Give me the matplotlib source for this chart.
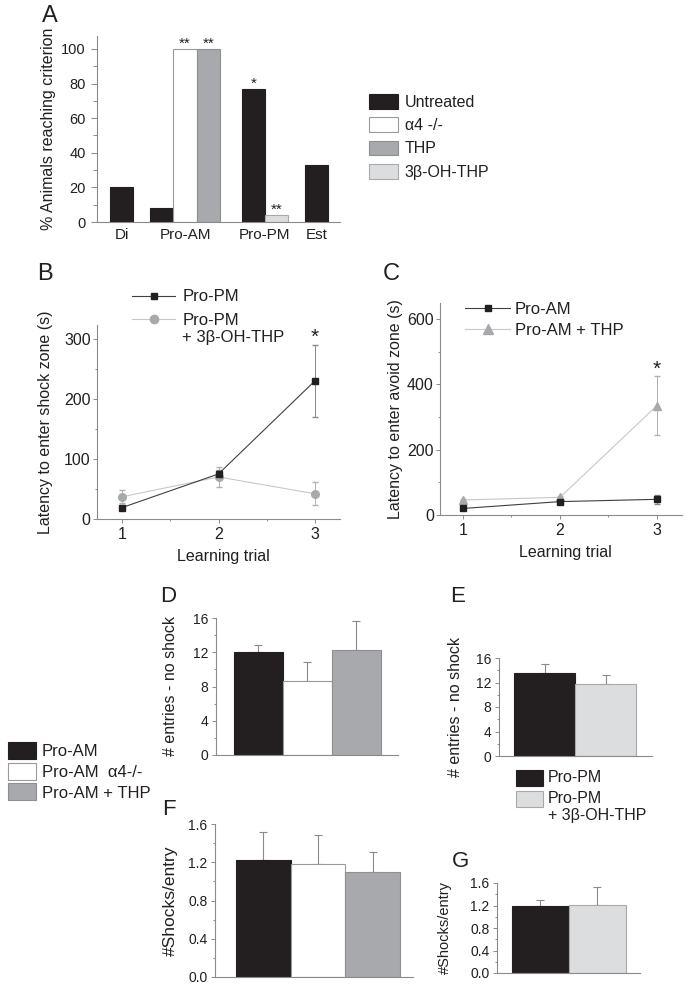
import numpy as np
import matplotlib
matplotlib.use('Agg')
import matplotlib.pyplot as plt
import matplotlib.transforms as mtransforms
from matplotlib.patches import Patch
from matplotlib.lines import Line2D
from matplotlib.ticker import MultipleLocator, FormatStrFormatter

plt.rcParams['font.family'] = ['Liberation Sans', 'DejaVu Sans']

W, H = 691, 991

# ---- data ----
# panel A: % animals reaching criterion
a_groups = ['Di', 'Pro-AM', 'Pro-PM', 'Est']
a_series = ['Untreated', 'α4 -/-', 'THP', '3β-OH-THP']
a_bar_group = [0, 1, 1, 1, 2, 2, 3]
a_bar_series = [0, 0, 1, 2, 0, 3, 0]
a_values = [20, 8, 100, 100, 77, 4, 33]
a_sig = ['', '', '**', '**', '*', '**', '']

# panel B / C: latency per learning trial
trials = [1, 2, 3]
b_pm = [19, 75, 230]
b_pm_err = [4, 7, 60]
b_pm_oh = [37, 70, 42]
b_pm_oh_err = [11, 16, 19]
b_sig = ['', '', '*']
c_am = [20, 41, 48]
c_am_err = [3, 4, 13]
c_am_thp = [46, 54, 335]
c_am_thp_err = [4, 5, 91]
c_sig = ['', '', '*']

# panels D-G
d_labels = ['Pro-AM', 'Pro-AM  α4-/-', 'Pro-AM + THP']
d_entries = [12.0, 8.7, 12.3]
d_err = [0.9, 2.2, 3.3]
f_shocks = [1.22, 1.18, 1.10]
f_err = [0.30, 0.30, 0.21]
e_labels = ['Pro-PM', 'Pro-PM\n+ 3β-OH-THP']
e_entries = [13.5, 11.8]
e_err = [1.5, 1.5]
g_shocks = [1.19, 1.21]
g_err = [0.10, 0.32]

# ---- styles ----
text_c = '#231f20'
spine_c = '#8a8a8a'
err_c = '#8a8a8a'
black_c = '#231f20'
thp_c = '#a7a9ac'
oh_c = '#dcddde'
a_face = [black_c, 'white', thp_c, oh_c]
a_edge = [black_c, '#9a9a9a', '#8f8f8f', '#a8a8a8']

fig = plt.figure(figsize=(W / 100, H / 100), dpi=100)


def px_axes(left, top, right, bottom):
    return fig.add_axes([left / W, 1 - bottom / H, (right - left) / W, (bottom - top) / H])


def style(ax, fs=10, ticklen=3, pad=2):
    for s in ['top', 'right']:
        ax.spines[s].set_visible(False)
    for s in ['left', 'bottom']:
        ax.spines[s].set_color(spine_c)
        ax.spines[s].set_linewidth(0.8)
    ax.tick_params(which='both', direction='out', color=spine_c, width=0.7,
                   labelsize=fs, labelcolor=text_c, pad=pad)
    ax.tick_params(which='major', length=ticklen)
    ax.tick_params(which='minor', length=ticklen * 0.6)


def ylabel_at(ax, text, x_px, size):
    ax.set_ylabel(text, fontsize=size, color=text_c)
    tr = mtransforms.blended_transform_factory(fig.transFigure, ax.transAxes)
    ax.yaxis.set_label_coords(x_px / W, 0.5, transform=tr)


def xlabel_at(ax, text, x_px, y_px, size):
    ax.set_xlabel(text, fontsize=size, color=text_c)
    ax.xaxis.set_label_coords(x_px / W, 1 - y_px / H, transform=fig.transFigure)


def letter(s, x_px, y_px, size=17):
    fig.text(x_px / W, 1 - y_px / H, s, fontsize=size, color=text_c, ha='left', va='top')


def align_top(leg):
    for col in leg._legend_handle_box.get_children():
        for row in col.get_children():
            row.align = 'top'


# ---------------- A ----------------
axA = px_axes(97, 36, 340, 222)
style(axA, fs=10.5, ticklen=4.5, pad=3.5)
a_centers = [1.05, 3.78, 7.21, 9.42]
counts = [a_bar_group.count(g) for g in range(len(a_groups))]
seen = [0] * len(a_groups)
for g, s, v, sig in zip(a_bar_group, a_bar_series, a_values, a_sig):
    k = seen[g]
    seen[g] += 1
    x = a_centers[g] + (k - (counts[g] - 1) / 2)
    axA.bar(x, v, width=1.0, color=a_face[s], edgecolor=a_edge[s], linewidth=0.8)
    if sig:
        axA.annotate(sig, (x, v), xytext=(0, 1), textcoords='offset points',
                     ha='center', va='baseline', fontsize=11, color=text_c)
axA.set_xlim(0, 10.43)
axA.set_ylim(0, 107.5)
axA.yaxis.set_major_locator(MultipleLocator(20))
axA.yaxis.set_minor_locator(MultipleLocator(10))
axA.set_xticks(a_centers)
axA.set_xticklabels(a_groups, fontsize=11)
axA.tick_params(axis='x', length=0, pad=4)
ylabel_at(axA, '% Animals reaching criterion', 56, 11.5)
letter('A', 42, 5.5)

a_handles = [Patch(facecolor=a_face[i], edgecolor=a_edge[i], linewidth=0.8) for i in range(4)]
fig.legend(a_handles, a_series, loc='upper left', bbox_to_anchor=(369 / W, 1 - 94 / H),
           frameon=False, fontsize=11.5, handlelength=1.8, handleheight=1.06,
           handletextpad=0.45, labelspacing=0.46, borderpad=0, borderaxespad=0,
           labelcolor=text_c)

# ---------------- B ----------------
axB = px_axes(97, 325, 340, 519)
style(axB, fs=11.5, ticklen=3, pad=1.5)
axB.errorbar(trials, b_pm_oh, yerr=b_pm_oh_err, color='#c8c8c8', lw=0.8, marker='o',
             ms=5.5, mfc=thp_c, mec=thp_c, ecolor='#b0b0b0', elinewidth=0.7, capsize=2.5)
axB.errorbar(trials, b_pm, yerr=b_pm_err, color='#404040', lw=0.8, marker='s',
             ms=4, mfc=black_c, mec=black_c, ecolor=err_c, elinewidth=0.7, capsize=2.5)
for x, v, e, s in zip(trials, b_pm, b_pm_err, b_sig):
    if s:
        axB.annotate(s, (x, v + e), xytext=(0, 1.5), textcoords='offset points',
                     ha='center', va='baseline', fontsize=15, color=text_c)
axB.set_xlim(0.74, 3.26)
axB.set_ylim(0, 323)
axB.set_xticks(trials)
axB.xaxis.set_minor_locator(MultipleLocator(0.5))
axB.yaxis.set_major_locator(MultipleLocator(100))
axB.yaxis.set_minor_locator(MultipleLocator(50))
axB.tick_params(axis='x', pad=3)
ylabel_at(axB, 'Latency to enter shock zone (s)', 53, 11.5)
xlabel_at(axB, 'Learning trial', 223, 549, 11.5)
letter('B', 37, 262.5)
b_handles = [Line2D([], [], color='#404040', lw=0.8, marker='s', ms=5, mfc=black_c, mec=black_c),
             Line2D([], [], color='#c8c8c8', lw=0.8, marker='o', ms=6, mfc=thp_c, mec=thp_c)]
legB = axB.legend(b_handles, ['Pro-PM', 'Pro-PM\n+ 3β-OH-THP'], loc='upper left',
                  bbox_to_anchor=(132 / W, 1 - 289 / H), bbox_transform=fig.transFigure,
                  frameon=False, fontsize=12, handlelength=2.6, handleheight=1.1,
                  handletextpad=0.42, labelspacing=0.45, borderpad=0, borderaxespad=0,
                  numpoints=1, labelcolor=text_c)
align_top(legB)

# ---------------- C ----------------
axC = px_axes(440, 303, 682, 515)
style(axC, fs=11.5, ticklen=3, pad=1.5)
axC.errorbar(trials, c_am_thp, yerr=c_am_thp_err, color='#c8c8c8', lw=0.8, marker='^',
             ms=6, mfc=thp_c, mec=thp_c, ecolor='#b0b0b0', elinewidth=0.7, capsize=2.5)
axC.errorbar(trials, c_am, yerr=c_am_err, color='#404040', lw=0.8, marker='s',
             ms=4.5, mfc=black_c, mec=black_c, ecolor=err_c, elinewidth=0.7, capsize=2.5)
for x, v, e, s in zip(trials, c_am_thp, c_am_thp_err, c_sig):
    if s:
        axC.annotate(s, (x, v + e), xytext=(0, 0.5), textcoords='offset points',
                     ha='center', va='baseline', fontsize=15, color=text_c)
axC.set_xlim(0.763, 3.258)
axC.set_ylim(0, 649)
axC.set_xticks(trials)
axC.xaxis.set_minor_locator(MultipleLocator(0.5))
axC.yaxis.set_major_locator(MultipleLocator(200))
axC.yaxis.set_minor_locator(MultipleLocator(100))
axC.tick_params(axis='x', pad=3)
ylabel_at(axC, 'Latency to enter avoid zone (s)', 403, 11.5)
xlabel_at(axC, 'Learning trial', 565, 545, 11.5)
letter('C', 383, 263.5)
c_handles = [Line2D([], [], color='#404040', lw=0.8, marker='s', ms=5, mfc=black_c, mec=black_c),
             Line2D([], [], color='#c8c8c8', lw=0.8, marker='^', ms=6.5, mfc=thp_c, mec=thp_c)]
axC.legend(c_handles, ['Pro-AM', 'Pro-AM + THP'], loc='upper left',
           bbox_to_anchor=(465 / W, 1 - 302 / H), bbox_transform=fig.transFigure,
           frameon=False, fontsize=12, handlelength=2.7, handletextpad=0.3,
           labelspacing=0.36, borderpad=0, borderaxespad=0, numpoints=1,
           labelcolor=text_c)


# ---------------- bar panels ----------------
def bar_panel(ax, vals, errs, faces, edges, xlim, ylim, major, minor, fmt):
    style(ax, fs=10, ticklen=3, pad=2.5)
    x = np.arange(len(vals))
    ax.bar(x, vals, width=1.0, color=faces, edgecolor=edges, linewidth=0.8, zorder=2)
    ax.errorbar(x, vals, yerr=[np.zeros(len(errs)), errs], fmt='none', ecolor=err_c,
                elinewidth=0.8, capsize=3, capthick=0.8, zorder=1)
    ax.set_xlim(*xlim)
    ax.set_ylim(*ylim)
    ax.set_xticks([])
    ax.yaxis.set_major_locator(MultipleLocator(major))
    ax.yaxis.set_minor_locator(MultipleLocator(minor))
    if fmt:
        ax.yaxis.set_major_formatter(FormatStrFormatter(fmt))


d_face = [black_c, 'white', thp_c]
d_edge = [black_c, '#9a9a9a', '#8f8f8f']
e_face = [black_c, oh_c]
e_edge = [black_c, '#a8a8a8']

axD = px_axes(216, 618, 398, 755)
bar_panel(axD, d_entries, d_err, d_face, d_edge, (-0.867, 2.847), (0, 16), 4, 2, None)
ylabel_at(axD, '# entries - no shock', 178, 11.5)
letter('D', 160, 585.5, 16)

axE = px_axes(499, 658, 652, 756)
bar_panel(axE, e_entries, e_err, e_face, e_edge, (-0.746, 1.76), (0, 16), 4, 2, None)
ylabel_at(axE, '# entries - no shock', 463, 11.5)
letter('E', 450, 585.5, 16)

axF = px_axes(215, 824, 413, 977)
bar_panel(axF, f_shocks, f_err, d_face, d_edge, (-0.884, 2.738), (0, 1.6), 0.4, 0.2, '%.1f')
ylabel_at(axF, '#Shocks/entry', 178, 12.5)
letter('F', 162, 799, 16)

axG = px_axes(497, 883, 640, 973)
bar_panel(axG, g_shocks, g_err, e_face, e_edge, (-0.763, 1.746), (0, 1.6), 0.4, 0.2, '%.1f')
ylabel_at(axG, '#Shocks/entry', 452, 10.5)
letter('G', 452, 851, 16)

d_handles = [Patch(facecolor=d_face[i], edgecolor=d_edge[i], linewidth=0.8) for i in range(3)]
fig.legend(d_handles, d_labels, loc='upper left', bbox_to_anchor=(8 / W, 1 - 742 / H),
           frameon=False, fontsize=12, handlelength=1.68, handleheight=1.2,
           handletextpad=0.36, labelspacing=0.21, borderpad=0, borderaxespad=0,
           labelcolor=text_c)

e_handles = [Patch(facecolor=e_face[i], edgecolor=e_edge[i], linewidth=0.8) for i in range(2)]
legE = fig.legend(e_handles, e_labels, loc='upper left', bbox_to_anchor=(516 / W, 1 - 770 / H),
                  frameon=False, fontsize=11.5, handlelength=1.7, handleheight=1.2,
                  handletextpad=0.3, labelspacing=0.28, borderpad=0, borderaxespad=0,
                  labelcolor=text_c)
align_top(legE)

fig.savefig('out.png', dpi=100)
